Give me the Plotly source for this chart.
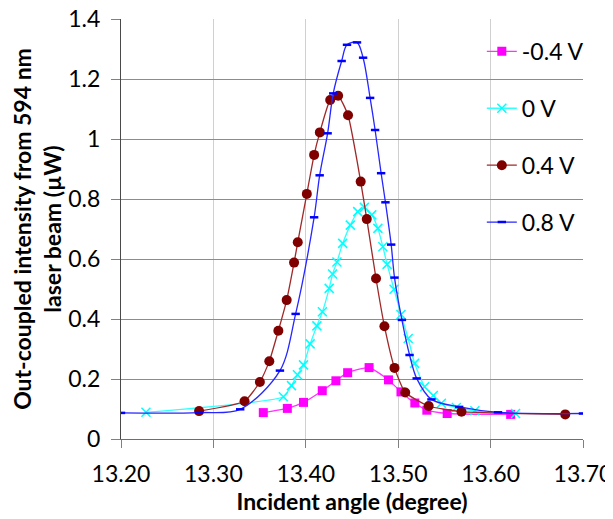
import plotly.graph_objects as go

# -0.4 V
x_m04 = [13.354, 13.380, 13.3975, 13.4178, 13.4326, 13.4453, 13.4685, 13.4895, 13.503, 13.518, 13.531, 13.553, 13.6217]
y_m04 = [0.088, 0.102, 0.122, 0.161, 0.194, 0.221, 0.238, 0.197, 0.157, 0.120, 0.096, 0.085, 0.082]

# 0 V
x_0 = [13.227, 13.3757, 13.3845, 13.391, 13.3975, 13.4047, 13.412, 13.418, 13.4253, 13.429, 13.4337, 13.4399,
       13.4482, 13.4562, 13.4634, 13.4714, 13.478, 13.4834, 13.4880, 13.4955, 13.5030, 13.5108, 13.5178, 13.5286,
       13.538, 13.5467, 13.563, 13.583, 13.627]
y_0 = [0.089, 0.141, 0.178, 0.214, 0.247, 0.317, 0.377, 0.424, 0.502, 0.550, 0.590, 0.652,
       0.713, 0.758, 0.772, 0.747, 0.702, 0.641, 0.582, 0.499, 0.415, 0.335, 0.252, 0.174,
       0.145, 0.119, 0.105, 0.094, 0.085]

# 0.4 V
x_04 = [13.2845, 13.3337, 13.3503, 13.3605, 13.3703, 13.3793, 13.3873, 13.3913, 13.4011, 13.409, 13.4152, 13.4264,
        13.435, 13.4457, 13.4594, 13.466, 13.476, 13.4851, 13.496, 13.5076, 13.533, 13.5685, 13.6808]
y_04 = [0.093, 0.126, 0.190, 0.259, 0.361, 0.463, 0.588, 0.656, 0.817, 0.947, 1.022, 1.130,
        1.144, 1.079, 0.858, 0.733, 0.535, 0.376, 0.237, 0.155, 0.110, 0.091, 0.082]

# 0.8 V
x_08 = [13.20, 13.2845, 13.329, 13.372, 13.389, 13.409, 13.415, 13.4236, 13.4297, 13.4388, 13.4446, 13.4554, 13.462,
        13.4696, 13.475, 13.4815, 13.4862, 13.4924, 13.496, 13.504, 13.5123, 13.520, 13.536, 13.566, 13.608, 13.70]
y_08 = [0.087, 0.088, 0.099, 0.228, 0.417, 0.739, 0.879, 1.019, 1.152, 1.260, 1.314, 1.322, 1.271,
        1.137, 1.030, 0.886, 0.789, 0.648, 0.538, 0.397, 0.280, 0.202, 0.132, 0.107, 0.089, 0.085]

x_ticks = [13.20, 13.30, 13.40, 13.50, 13.60, 13.70]
x_tick_labels = ["13.20", "13.30", "13.40", "13.50", "13.60", "13.70"]
y_ticks = [0, 0.2, 0.4, 0.6, 0.8, 1.0, 1.2, 1.4]
y_tick_labels = ["0", "0.2", "0.4", "0.6", "0.8", "1", "1.2", "1.4"]

FONT = "Lato, 'Open Sans', sans-serif"

fig = go.Figure()
fig.add_trace(go.Scatter(x=x_m04, y=y_m04, name="-0.4 V", mode="lines+markers", legendgroup="a",
                         line=dict(color="#FF33FF", width=1.3, shape="spline", smoothing=0.5),
                         marker=dict(symbol="square", size=9, color="#FF00FF")))
fig.add_trace(go.Scatter(x=x_0, y=y_0, name="0 V", mode="lines+markers", legendgroup="b",
                         line=dict(color="#33FFFF", width=1.3, shape="spline", smoothing=0.5),
                         marker=dict(symbol="x-thin", size=9, color="#00FFFF",
                                     line=dict(color="#00FFFF", width=1.5))))
fig.add_trace(go.Scatter(x=x_04, y=y_04, name="0.4 V", mode="lines+markers", legendgroup="c",
                         line=dict(color="#A02828", width=1.3, shape="spline", smoothing=0.5),
                         marker=dict(symbol="circle", size=10, color="#800000")))
fig.add_trace(go.Scatter(x=x_08, y=y_08, name="0.8 V", mode="lines+markers", legendgroup="d",
                         line=dict(color="#2626FF", width=1.3, shape="spline", smoothing=0.9),
                         marker=dict(symbol="line-ew", size=6, color="#0000FF",
                                     line=dict(color="#0000FF", width=2.5))))

fig.update_layout(
    width=605, height=511,
    margin=dict(l=113, r=30, t=11, b=80, autoexpand=False),
    paper_bgcolor="white", plot_bgcolor="white",
    font=dict(family=FONT, size=23, color="black"),
    legend=dict(x=0.781, xanchor="left", y=0.974, yanchor="top", tracegroupgap=24,
                bgcolor="rgba(0,0,0,0)", font=dict(size=23)),
    xaxis=dict(range=[13.20, 13.70], tickvals=x_ticks, ticktext=x_tick_labels,
               showgrid=True, gridcolor="#D0D0D0", gridwidth=1,
               showline=True, linecolor="#6E6E6E", linewidth=1.2,
               ticks="outside", ticklen=8, tickcolor="#808080",
               zeroline=False, automargin=False, ticklabelstandoff=6,
               ticklabeloverflow="allow",
               title=dict(text="<b>Incident angle (degree)</b>", font=dict(size=23), standoff=5)),
    yaxis=dict(range=[0, 1.4], tickvals=y_ticks, ticktext=y_tick_labels,
               showgrid=True, gridcolor="#8C8C8C", gridwidth=1,
               showline=True, linecolor="#4A4A4A", linewidth=1.2,
               ticks="outside", ticklen=9, tickcolor="#808080",
               zeroline=False, ticklabelstandoff=6, automargin=False,
               ticklabeloverflow="allow",
               title=dict(text="<b>Out-coupled intensity from 594 nm<br>laser beam (µW)</b>",
                          font=dict(size=23), standoff=3)),
)

fig.write_html("out.html")
